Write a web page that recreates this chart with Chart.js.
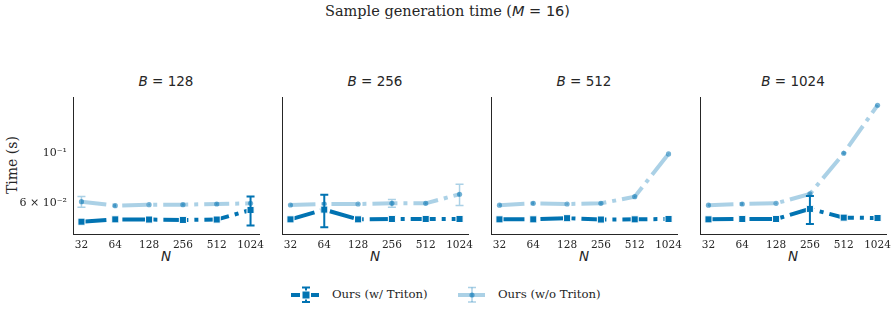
<!DOCTYPE html>
<html>
<head>
<meta charset="utf-8">
<script src="https://cdn.jsdelivr.net/npm/chart.js@4.4.1/dist/chart.umd.min.js"></script>
<style>
  body { margin: 0; background: #fff; }
  #wrap { position: relative; width: 895px; height: 313px; overflow: hidden;
    font-family: "DejaVu Serif", serif; color: #262626; }
  .abs { position: absolute; white-space: nowrap; }
  .sans { font-family: "DejaVu Sans", sans-serif; }
  .it { font-style: italic; }
  canvas { position: absolute; top: 60px; }
  #title { left: 0; width: 895px; top: 3px; text-align: center; font-size: 14.5px; }
  .sub { top: 73px; width: 186px; text-align: center; font-size: 13.5px; }
  .xlab { top: 248px; width: 186px; text-align: center; font-size: 13.5px; }
  #ylab { left: 12px; top: 165px; font-size: 14px; transform: translate(-50%, -50%) rotate(-90deg); }
  .leg { top: 287px; font-size: 11.7px; }
</style>
</head>
<body>
<div id="wrap">
  <div id="title" class="abs">Sample generation time (<span class="sans"><span class="it">M</span> = 16)</span></div>
  <div id="ylab" class="abs">Time (s)</div>
  <svg class="abs" style="left:280px;top:282px" width="45" height="26">
    <line x1="11" y1="13" x2="20" y2="13" stroke="#0173b2" stroke-width="4"/>
    <line x1="31" y1="13" x2="39" y2="13" stroke="#0173b2" stroke-width="4"/>
    <line x1="26" y1="5.5" x2="26" y2="20" stroke="#0173b2" stroke-width="2"/>
    <line x1="22" y1="5.5" x2="30" y2="5.5" stroke="#0173b2" stroke-width="2"/>
    <line x1="22" y1="20" x2="30" y2="20" stroke="#0173b2" stroke-width="2"/>
    <rect x="22" y="9" width="8" height="8" fill="#0173b2" stroke="#fff" stroke-width="1"/>
  </svg>
  <div class="abs leg" style="left:332px">Ours (w/ Triton)</div>
  <svg class="abs" style="left:446px;top:282px" width="45" height="26">
    <line x1="12" y1="13" x2="39" y2="13" stroke="rgba(1,115,178,0.33)" stroke-width="4"/>
    <line x1="26" y1="5.5" x2="26" y2="20" stroke="rgba(1,115,178,0.33)" stroke-width="1.5"/>
    <line x1="22" y1="5.5" x2="30" y2="5.5" stroke="rgba(1,115,178,0.33)" stroke-width="1.5"/>
    <line x1="22" y1="20" x2="30" y2="20" stroke="rgba(1,115,178,0.33)" stroke-width="1.5"/>
    <circle cx="26" cy="13" r="2.6" fill="rgba(1,115,178,0.55)"/>
  </svg>
  <div class="abs leg" style="left:498px">Ours (w/o Triton)</div>
</div>
<script>
"use strict";

const N_VALUES = [32, 64, 128, 256, 512, 1024];
const B_VALUES = [128, 256, 512, 1024];
const Y_TICKS = [0.06, 0.1];
const Y_TICK_LABELS = ["6 × 10⁻²", "10⁻¹"];

// mean time (s) with Triton, one array per B
const triton128 = [0.0494, 0.0506, 0.0505, 0.0503, 0.0505, 0.0557];
const triton256 = [0.0506, 0.0559, 0.0506, 0.0508, 0.0508, 0.0508];
const triton512 = [0.0506, 0.0506, 0.0512, 0.0505, 0.0506, 0.0508];
const triton1024 = [0.0506, 0.0508, 0.0508, 0.0563, 0.0515, 0.0513];
// error bar half-height (s), with Triton
const tritonErr128 = [0.0004, 0.0004, 0.0004, 0.0004, 0.0004, 0.0082];
const tritonErr256 = [0.0004, 0.0092, 0.0004, 0.0004, 0.0004, 0.0004];
const tritonErr512 = [0.0004, 0.0004, 0.0004, 0.0004, 0.0004, 0.0004];
const tritonErr1024 = [0.0004, 0.0004, 0.0004, 0.0080, 0.0004, 0.0004];

// mean time (s) without Triton
const plain128 = [0.0606, 0.0582, 0.0588, 0.0588, 0.0592, 0.0596];
const plain256 = [0.0586, 0.0592, 0.0592, 0.0596, 0.0596, 0.0654];
const plain512 = [0.0585, 0.0596, 0.0592, 0.0596, 0.0638, 0.0987];
const plain1024 = [0.0585, 0.0592, 0.0596, 0.0656, 0.0994, 0.1623];
const plainErr128 = [0.0033, 0.0005, 0.0005, 0.0005, 0.0005, 0.0005];
const plainErr256 = [0.0005, 0.0005, 0.0005, 0.0024, 0.0005, 0.0071];
const plainErr512 = [0.0005, 0.0005, 0.0005, 0.0005, 0.0005, 0.0005];
const plainErr1024 = [0.0005, 0.0005, 0.0005, 0.0005, 0.0005, 0.0005];

const TRITON = [triton128, triton256, triton512, triton1024];
const TRITON_ERR = [tritonErr128, tritonErr256, tritonErr512, tritonErr1024];
const PLAIN = [plain128, plain256, plain512, plain1024];
const PLAIN_ERR = [plainErr128, plainErr256, plainErr512, plainErr1024];

const DARK = "#0173b2";
const LIGHT = "rgba(1,115,178,0.33)";
const LIGHT_MK = "rgba(1,115,178,0.55)";
const AXIS = "#262626";
const PANEL_LEFT = [73, 282, 491, 700];
const PANEL_W = 186, YAXIS_W = 60, RIGHT_PAD = 14;
const TOP_PAD = 37, AREA_H = 137, CANVAS_H = 200;

const errorBars = {
  id: "errorBars",
  afterDatasetsDraw(chart) {
    const { ctx, scales: { x, y } } = chart;
    chart.data.datasets.forEach((ds) => {
      if (!ds.err) return;
      ctx.save();
      ctx.strokeStyle = ds.errColor;
      ctx.lineWidth = ds.errWidth;
      const cap = 4;
      ds.data.forEach((p, i) => {
        const px = x.getPixelForValue(p.x);
        const top = y.getPixelForValue(p.y + ds.err[i]);
        const bot = y.getPixelForValue(p.y - ds.err[i]);
        ctx.beginPath();
        ctx.moveTo(px, top); ctx.lineTo(px, bot);
        if (bot - top > 3) {
          ctx.moveTo(px - cap, top); ctx.lineTo(px + cap, top);
          ctx.moveTo(px - cap, bot); ctx.lineTo(px + cap, bot);
        }
        ctx.stroke();
      });
      ctx.restore();
    });
  },
};

const pts = (arr) => N_VALUES.map((n, i) => ({ x: Math.log2(n), y: arr[i] }));
const wrap = document.getElementById("wrap");

B_VALUES.forEach((b, i) => {
  const left = PANEL_LEFT[i];
  const sub = document.createElement("div");
  sub.className = "abs sub sans";
  sub.style.left = left + "px";
  sub.innerHTML = `<span class="it">B</span> = ${b}`;
  wrap.appendChild(sub);
  const xl = document.createElement("div");
  xl.className = "abs xlab sans it";
  xl.style.left = left + "px";
  xl.textContent = "N";
  wrap.appendChild(xl);

  const cv = document.createElement("canvas");
  cv.width = YAXIS_W + PANEL_W + RIGHT_PAD;
  cv.height = CANVAS_H;
  cv.style.left = (left - YAXIS_W) + "px";
  wrap.appendChild(cv);

  new Chart(cv, {
    type: "line",
    data: {
      datasets: [
        {
          label: "Ours (w/ Triton)", data: pts(TRITON[i]), err: TRITON_ERR[i],
          errColor: DARK, errWidth: 2, order: 0,
          borderColor: DARK, borderWidth: 4, borderDash: [25, 6, 4, 6], borderCapStyle: "butt",
          pointStyle: "rect", pointRadius: 5, pointBackgroundColor: DARK,
          pointBorderColor: "#fff", pointBorderWidth: 1,
        },
        {
          label: "Ours (w/o Triton)", data: pts(PLAIN[i]), err: PLAIN_ERR[i],
          errColor: LIGHT, errWidth: 1.5, order: 1,
          borderColor: LIGHT, borderWidth: 4, borderDash: [25, 6, 4, 6], borderCapStyle: "butt",
          pointStyle: "circle", pointRadius: 2.6, pointBackgroundColor: LIGHT_MK,
          pointBorderWidth: 0,
        },
      ],
    },
    options: {
      responsive: false,
      animation: false,
      devicePixelRatio: 1,
      layout: { padding: { top: TOP_PAD, right: RIGHT_PAD, left: 0, bottom: 0 } },
      plugins: { legend: { display: false }, tooltip: { enabled: false } },
      elements: { line: { tension: 0 } },
      scales: {
        x: {
          type: "linear", min: 4.75, max: 10.25,
          afterBuildTicks: (s) => { s.ticks = N_VALUES.map((n) => ({ value: Math.log2(n) })); },
          afterFit: (s) => { s.height = CANVAS_H - TOP_PAD - AREA_H; },
          grid: { display: false, drawTicks: false },
          border: { display: true, color: AXIS, width: 1 },
          ticks: { padding: 5, color: AXIS, font: { family: "DejaVu Serif", size: 10.5 },
            callback: (v) => String(Math.round(2 ** v)) },
        },
        y: {
          type: "logarithmic", min: 0.04357, max: 0.1766,
          afterBuildTicks: (s) => { s.ticks = Y_TICKS.map((v) => ({ value: v })); },
          afterFit: (s) => { s.width = YAXIS_W; },
          grid: { display: false, drawTicks: false },
          border: { display: true, color: AXIS, width: 1 },
          ticks: { display: i === 0, padding: 6, color: AXIS, font: { family: "DejaVu Serif", size: 11 },
            callback: (v) => Y_TICK_LABELS[Y_TICKS.indexOf(v)] },
        },
      },
    },
    plugins: [errorBars],
  });
});
</script>
</body>
</html>
